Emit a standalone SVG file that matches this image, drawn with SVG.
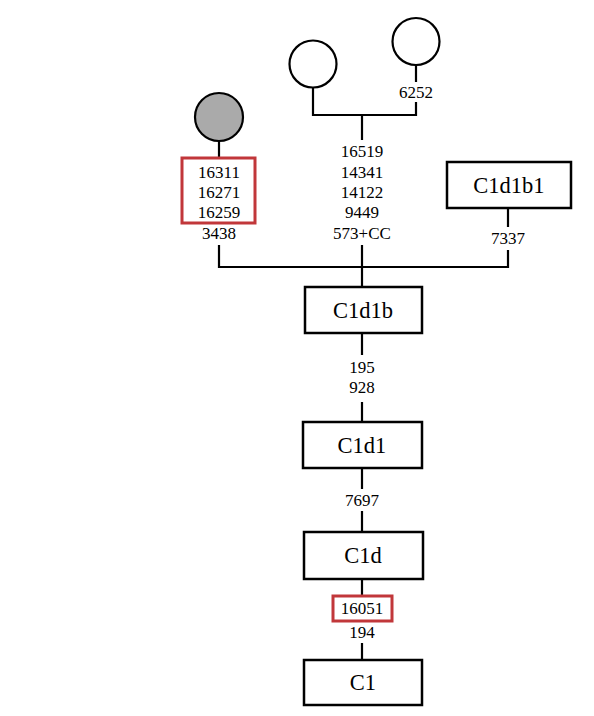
<svg xmlns="http://www.w3.org/2000/svg" width="594" height="716" viewBox="0 0 594 716">
<style>
.ln{stroke:#000;stroke-width:2.2;fill:none}
.box{fill:#fff;stroke:#000;stroke-width:2.5}
.hl{fill:none;stroke:#c1373a;stroke-width:3}
.num{font-size:17px;fill:#000;text-anchor:middle;dominant-baseline:central}
.lab{font-size:22.5px;fill:#000;text-anchor:middle;dominant-baseline:central}
.circ{fill:#fff;stroke:#000;stroke-width:2.2}
</style>
<rect width="594" height="716" fill="#fff"/>
<g id="connectors">
<path class="ln" d="M416 65V82M416 102V115H313V87"/>
<path class="ln" d="M362 115V140"/>
<path class="ln" d="M219 141V158"/>
<path class="ln" d="M219 245V267H508V250M508 208V227"/>
<path class="ln" d="M362 245V287"/>
<path class="ln" d="M362 333V355M362 402V422"/>
<path class="ln" d="M362 468V489M362 511V532"/>
<path class="ln" d="M362 579V596M362 643V660"/>
</g>
<g id="labels" font-family="'Liberation Serif', 'Times New Roman', 'DejaVu Serif', serif">
<text class="num" x="416" y="92">6252</text>
<text class="num" x="362" y="151">16519</text>
<text class="num" x="362" y="172">14341</text>
<text class="num" x="362" y="192">14122</text>
<text class="num" x="362" y="212">9449</text>
<text class="num" x="362" y="233">573+CC</text>
<text class="num" x="219" y="172">16311</text>
<text class="num" x="219" y="192">16271</text>
<text class="num" x="219" y="212">16259</text>
<text class="num" x="219" y="233">3438</text>
<rect class="hl" x="182" y="158" width="73" height="65"/>
<text class="num" x="508" y="238">7337</text>
<text class="num" x="362" y="367">195</text>
<text class="num" x="362" y="387">928</text>
<text class="num" x="362" y="500">7697</text>
<rect class="hl" x="333" y="596" width="59" height="25"/>
<text class="num" x="362" y="608">16051</text>
<text class="num" x="362" y="632">194</text>
</g>
<g id="circle-gray"><circle cx="219" cy="117" r="24" fill="#aaa" stroke="#000" stroke-width="2.2"/></g>
<g id="circle-mid"><circle class="circ" cx="313" cy="64" r="23.5"/></g>
<g id="circle-right"><circle class="circ" cx="416" cy="41.5" r="23.5"/></g>
<g font-family="'Liberation Serif', 'Times New Roman', 'DejaVu Serif', serif">
<g id="C1d1b1"><rect class="box" x="447" y="162" width="124" height="46"/><text class="lab" x="509" y="185">C1d1b1</text></g>
<g id="C1d1b"><rect class="box" x="305" y="287" width="117" height="46"/><text class="lab" x="363" y="310">C1d1b</text></g>
<g id="C1d1"><rect class="box" x="303" y="422" width="119" height="46"/><text class="lab" x="362" y="445">C1d1</text></g>
<g id="C1d"><rect class="box" x="304" y="532" width="119" height="47"/><text class="lab" x="363" y="555">C1d</text></g>
<g id="C1"><rect class="box" x="304" y="660" width="118" height="45"/><text class="lab" x="363" y="682">C1</text></g>
</g>
</svg>
